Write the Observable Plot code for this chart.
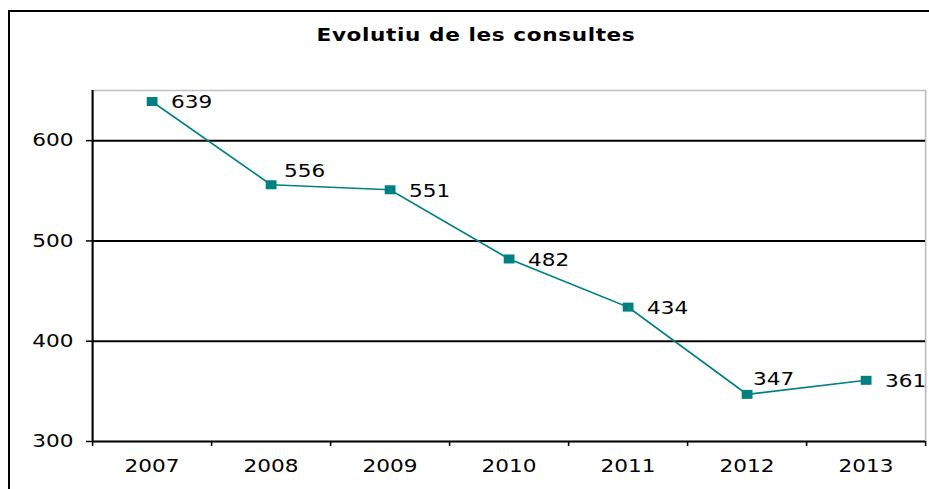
<!DOCTYPE html>
<html>
<head>
<meta charset="utf-8">
<script src="https://cdn.jsdelivr.net/npm/d3@7"></script>
<script src="https://cdn.jsdelivr.net/npm/@observablehq/plot@0.6"></script>
<style>
  html, body { margin: 0; padding: 0; background: #fff; }
  #wrap { position: relative; width: 929px; height: 489px; overflow: hidden; background: #fff; }
  #stretch { position: absolute; left: 0; top: 0; width: 774px; height: 489px;
             transform: scaleX(1.2003); transform-origin: 0 0; }
  #frame { position: absolute; left: 8px; top: 10px; width: 1000px; height: 1000px;
           border-top: 2px solid #000; border-left: 2px solid #000; pointer-events: none; }
  #title { position: absolute; left: 0; top: 24px; width: 793px; text-align: center;
           font-family: "DejaVu Sans", Verdana, sans-serif; font-weight: bold; font-size: 18px;
           line-height: 21px; letter-spacing: 0.5px; color: #000; white-space: nowrap; }
  #chart { position: absolute; left: 0; top: 60px; }
</style>
</head>
<body>
<div id="wrap">
  <div id="stretch">
    <div id="title">Evolutiu de les consultes</div>
    <div id="chart"></div>
  </div>
  <div id="frame"></div>
</div>
<script>
const years = ["2007", "2008", "2009", "2010", "2011", "2012", "2013"];
const consultes = [639, 556, 551, 482, 434, 347, 361];
const yTicks = [300, 400, 500, 600];
const gridValues = [400, 500, 600];

const data = years.map((year, i) => ({year, pos: i + 0.5, value: consultes[i]}));

const teal = "#008080";
const FONT = "DejaVu Sans, Verdana, sans-serif";
const squareSymbol = {
  draw(context, size) {
    const r = Math.sqrt(size / Math.PI);
    context.rect(-r, -r, r * 2, r * 2);
  }
};

const chart = Plot.plot({
  width: 774,
  height: 429,
  marginTop: 30,
  marginBottom: 48,
  marginLeft: 76.65,
  marginRight: 3.35,
  style: {fontFamily: FONT, fontSize: "18px", color: "#000", background: "#fff", overflow: "visible"},
  x: {type: "linear", domain: [0, years.length]},
  y: {type: "linear", domain: [300, 650]},
  marks: [
    Plot.frame({stroke: "#c0c0c0", strokeWidth: 1.5}),
    Plot.ruleY(gridValues, {stroke: "#000", strokeWidth: 2}),
    Plot.ruleY([300], {stroke: "#000", strokeWidth: 2}),
    Plot.ruleX([0], {stroke: "#000", strokeWidth: 1.7}),
    Plot.axisY({ticks: yTicks, tickSize: 5, tickPadding: 11, label: null, stroke: "#000", strokeWidth: 1.5,
                fontSize: 18, fontFamily: FONT, fill: "#000"}),
    Plot.axisX({ticks: d3.range(years.length + 1), tickSize: 5, tickFormat: () => "", label: null,
                stroke: "#000", strokeWidth: 1.3}),
    Plot.axisX({ticks: data.map(d => d.pos), tickSize: 0, tickPadding: 18, tickFormat: v => years[Math.floor(v)],
                label: null, fontSize: 18, fontFamily: FONT, fill: "#000"}),
    Plot.line(data, {x: "pos", y: "value", stroke: teal, strokeWidth: 1.6}),
    Plot.dot(data, {x: "pos", y: "value", symbol: squareSymbol, r: 4.5, fill: teal, stroke: null}),
    Plot.text(data.filter(d => d.year !== "2008" && d.year !== "2012"),
      {x: "pos", y: "value", text: d => String(d.value), textAnchor: "start", dx: 15.8, dy: 1,
       fill: "#000", fontSize: 18, fontFamily: FONT}),
    Plot.text(data.filter(d => d.year === "2008"),
      {x: "pos", y: "value", text: d => String(d.value), textAnchor: "start", dx: 10.8, dy: -14,
       fill: "#000", fontSize: 18, fontFamily: FONT}),
    Plot.text(data.filter(d => d.year === "2012"),
      {x: "pos", y: "value", text: d => String(d.value), textAnchor: "start", dx: 5, dy: -15,
       fill: "#000", fontSize: 18, fontFamily: FONT})
  ]
});
document.getElementById("chart").appendChild(chart);
</script>
</body>
</html>
